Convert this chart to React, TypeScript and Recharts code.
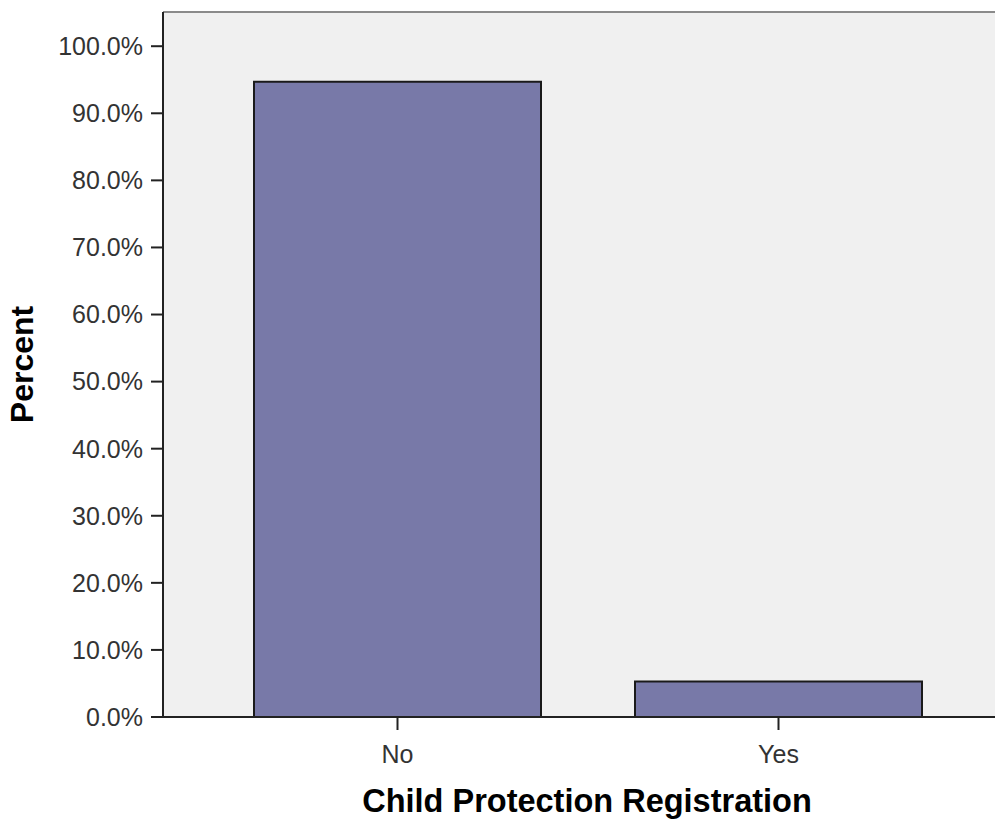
import { BarChart, Bar, XAxis, YAxis, CartesianGrid, ReferenceLine } from 'recharts'

const categories = ['No', 'Yes']
const percents = [94.7, 5.3]
const yTicks = [0, 10, 20, 30, 40, 50, 60, 70, 80, 90, 100]
const Y_MAX = 105.1

const data = categories.map((name, i) => ({ name, percent: percents[i] }))

const FONT = "Arial, 'Liberation Sans', sans-serif"

export default function App() {
  return (
    <div style={{ position: 'absolute', left: 0, top: 0, background: '#ffffff' }}>
      <BarChart
        width={995}
        height={819}
        data={data}
        margin={{ top: 12, right: 0, left: 0, bottom: 0 }}
      >
        <CartesianGrid fill="#f0f0f0" horizontal={false} vertical={false} />
        <ReferenceLine y={Y_MAX} stroke="#8a8a8a" strokeWidth={2} />
        <XAxis
          dataKey="name"
          height={102}
          padding={{ left: 44, right: 26 }}
          stroke="#222"
          strokeWidth={2}
          tickSize={13}
          tickMargin={15}
          tick={{ fill: '#333', fontSize: 25, fontFamily: FONT }}
          label={{
            value: 'Child Protection Registration',
            position: 'insideBottom',
            offset: 7,
            dx: 8,
            fill: '#000',
            fontSize: 32.5,
            fontWeight: 'bold',
            fontFamily: FONT,
          }}
        />
        <YAxis
          width={163}
          domain={[0, Y_MAX]}
          ticks={yTicks}
          interval={0}
          stroke="#222"
          strokeWidth={2}
          tickSize={12}
          tickMargin={8}
          tick={{ fill: '#333', fontSize: 25, fontFamily: FONT }}
          tickFormatter={(v: number) => `${v.toFixed(1)}%`}
          label={{
            content: ({ viewBox }: any) => {
              const cx = viewBox.x + 22
              const cy = viewBox.y + viewBox.height / 2
              return (
                <text
                  x={cx}
                  y={cy}
                  transform={`rotate(-90, ${cx}, ${cy})`}
                  textAnchor="middle"
                  dominantBaseline="central"
                  fill="#000"
                  fontSize={32}
                  fontWeight="bold"
                  fontFamily={FONT}
                >
                  Percent
                </text>
              )
            },
          }}
        />
        <Bar
          dataKey="percent"
          fill="#7879a8"
          stroke="#1a1a1a"
          strokeWidth={2}
          barSize={287}
          isAnimationActive={false}
        />
      </BarChart>
    </div>
  )
}
